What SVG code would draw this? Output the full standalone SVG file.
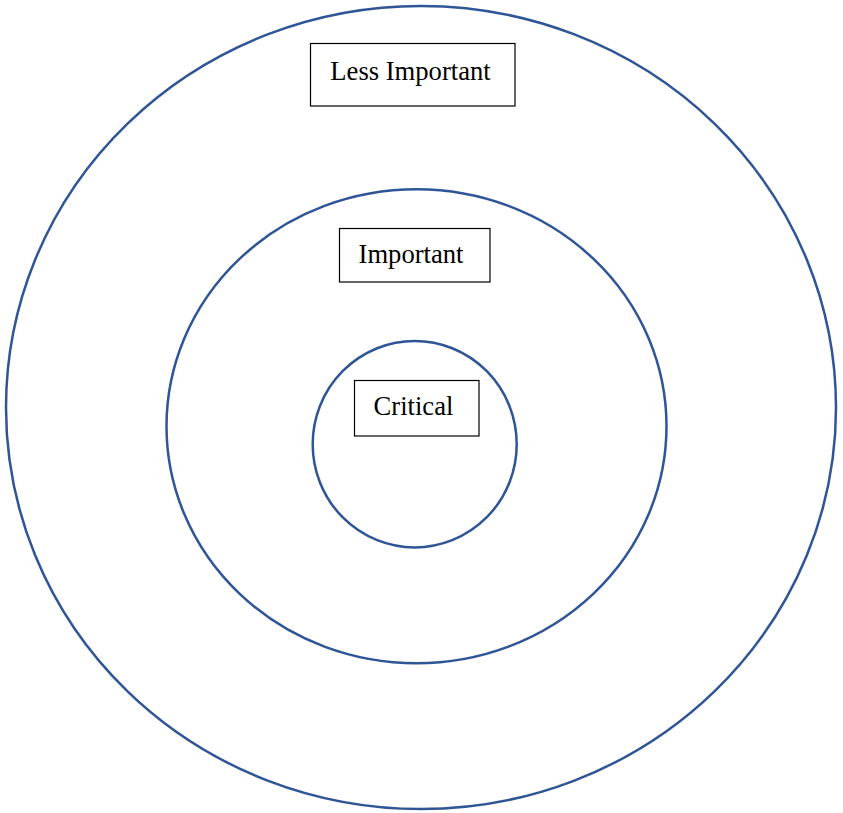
<svg xmlns="http://www.w3.org/2000/svg" width="843" height="813" viewBox="0 0 843 813">
<style>
.ring{fill:none;stroke:#2F5597;stroke-width:2.5}
.box{fill:#fff;stroke:#000;stroke-width:1.2}
.lbl{font-family:"Liberation Serif","Times New Roman",serif;font-size:26.6px;fill:#000;text-anchor:middle}
</style>
<rect width="843" height="813" fill="#fff"/>
<g id="outer-ring"><ellipse class="ring" cx="421" cy="407.5" rx="415" ry="401.5"/></g>
<g id="middle-ring"><ellipse class="ring" cx="416.5" cy="426.3" rx="250" ry="237"/></g>
<g id="inner-ring"><ellipse class="ring" cx="414.7" cy="444.2" rx="102" ry="103.2"/></g>
<g id="less-important">
<rect class="box" x="310.5" y="43.5" width="204.5" height="62.5"/>
<text class="lbl" x="410.5" y="80">Less Important</text>
</g>
<g id="important">
<rect class="box" x="339.5" y="228.5" width="150.5" height="53.5"/>
<text class="lbl" x="411" y="263">Important</text>
</g>
<g id="critical">
<rect class="box" x="354.5" y="380.5" width="124.5" height="55.5"/>
<text class="lbl" x="413.5" y="415">Critical</text>
</g>
<g id="connectors"></g>
</svg>
